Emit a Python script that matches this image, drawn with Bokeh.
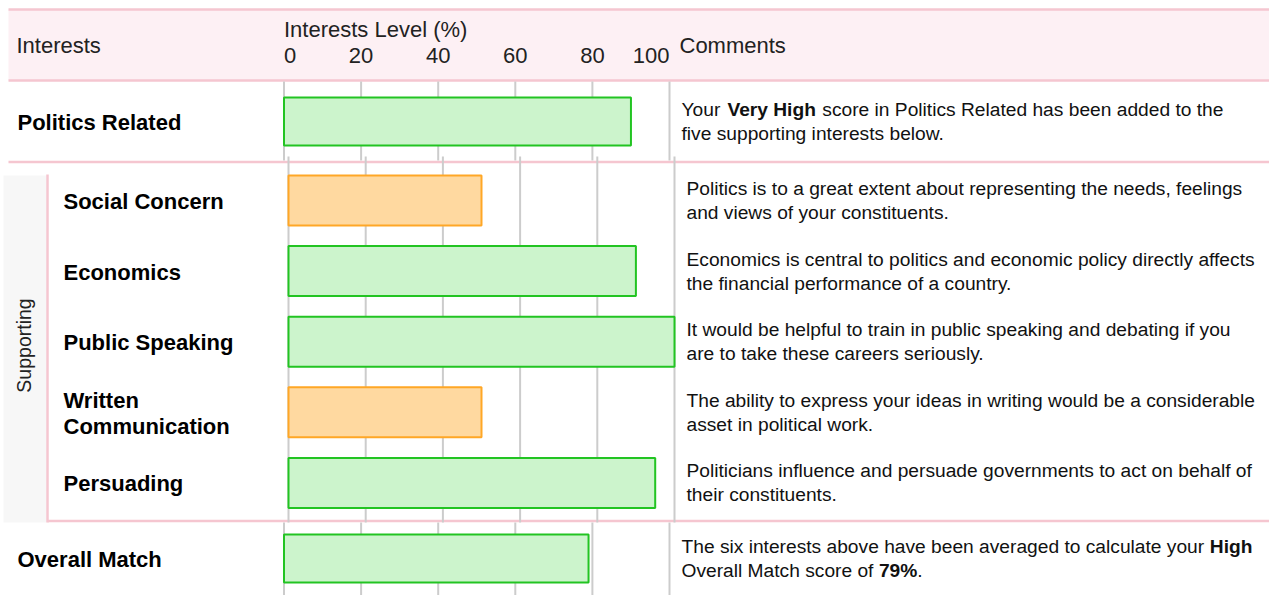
from math import pi
from bokeh.plotting import figure
from bokeh.models import Range1d
from bokeh.core.properties import value
from bokeh.embed import file_html
from bokeh.resources import INLINE

# ---------------- data ----------------
tick_values = [0, 20, 40, 60, 80, 100]
tick_labels = ["0", "20", "40", "60", "80", "100"]

top_labels = ["Politics Related"]
top_values = [90]
top_comments = [["Your **Very High** score in Politics Related has been added to the",
                 "five supporting interests below."]]

support_title = "Supporting"
support_labels = ["Social Concern", "Economics", "Public Speaking",
                  "Written\nCommunication", "Persuading"]
support_values = [50, 90, 100, 50, 95]
support_comments = [
    ["Politics is to a great extent about representing the needs, feelings",
     "and views of your constituents."],
    ["Economics is central to politics and economic policy directly affects",
     "the financial performance of a country."],
    ["It would be helpful to train in public speaking and debating if you",
     "are to take these careers seriously."],
    ["The ability to express your ideas in writing would be a considerable",
     "asset in political work."],
    ["Politicians influence and persuade governments to act on behalf of",
     "their constituents."],
]

overall_labels = ["Overall Match"]
overall_values = [79]
overall_comments = [["The six interests above have been averaged to calculate your **High**",
                     "Overall Match score of **79%**."]]

header_left = "Interests"
header_axis = "Interests Level (%)"
header_right = "Comments"

# ---------------- styling / layout ----------------
FONT = "Liberation Sans"
W, H = 1269, 595
OX, OY = 0, 0
PINK_LINE = "#f5c6d0"
PINK_FILL = "#fdf0f4"
GRID = "#cccccc"
GREEN_FILL, GREEN_LINE = "#ccf4cc", "#22c422"
ORANGE_FILL, ORANGE_LINE = "#ffd9a0", "#ffa726"
TXT = "#111111"

# Arial / Liberation Sans advance widths (per 1000 em)
_up = "ABCDEFGHIJKLMNOPQRSTUVWXYZ"
_lo = "abcdefghijklmnopqrstuvwxyz"
REG = dict(zip(_up, [667,667,722,722,667,611,778,722,278,500,667,556,833,722,778,667,778,722,667,611,722,667,944,667,667,611]))
REG.update(zip(_lo, [556,556,500,556,556,278,556,556,222,222,500,222,833,556,556,556,556,333,500,278,556,500,722,500,500,500]))
BOLD = dict(zip(_up, [722,722,722,722,667,611,778,722,278,556,722,611,833,722,778,667,778,722,667,611,722,667,944,667,667,611]))
BOLD.update(zip(_lo, [556,611,556,611,556,333,611,611,278,278,556,278,889,611,611,611,611,389,556,333,611,556,778,556,556,500]))
for t in (REG, BOLD):
    t.update({" ": 278, ".": 278, ",": 278, "%": 889, "(": 333, ")": 333})
    t.update({d: 556 for d in "0123456789"})


def tw(s, size, bold=False):
    tab = BOLD if bold else REG
    return sum(tab.get(c, 556) for c in s) * size / 1000.0


# chart x mappings: page_x = x0 + scale * v
C1_X0, C1_S = 283.5, 3.855
C2_X0, C2_S = 288.0, 3.86


def xr(x0, s):
    return Range1d(start=(OX - x0) / s, end=(OX + W - x0) / s)


# row mappings: page_y = c0 + step * index
SEC = {"r1": (121.0, 70.0), "r2": (200.0, 70.6), "r3": (558.0, 70.0)}


def yr(c0, step):
    return Range1d(start=(OY + H - c0) / step, end=(OY - c0) / step)


def row_y(name, i):
    c0, step = SEC[name]
    return c0 + step * i


p = figure(width=W, height=H, output_backend="svg", toolbar_location=None,
           x_range=Range1d(OX, OX + W), y_range=Range1d(OY + H, OY),
           x_axis_location=None, y_axis_location=None,
           min_border=0, outline_line_color=None)
p.xgrid.visible = False
p.ygrid.visible = False
p.background_fill_color = "white"
p.border_fill_color = "white"
p.extra_x_ranges = {"c1": xr(C1_X0, C1_S), "c2": xr(C2_X0, C2_S)}
p.extra_y_ranges = {k: yr(*v) for k, v in SEC.items()}

L, R = 8, OX + W
# header band
p.quad(left=[L], right=[R], top=[9], bottom=[80], fill_color=PINK_FILL, line_color=None)
# supporting side box
p.quad(left=[3], right=[46], top=[175], bottom=[522], fill_color="#f7f7f7", line_color=None)

# pink separators
p.segment(x0=[L, L, L, 47], y0=[9, 80, 161.5, 520.5], x1=[R] * 4, y1=[9, 80, 161.5, 520.5],
          line_color=PINK_LINE, line_width=2.5)
p.segment(x0=[47], y0=[174], x1=[47], y1=[522], line_color=PINK_LINE, line_width=2.5)

# gridlines
n = len(tick_values)
p.segment(x0=tick_values, x1=tick_values, y0=[81] * n, y1=[160] * n,
          x_range_name="c1", line_color=GRID, line_width=2)
p.segment(x0=tick_values, x1=tick_values, y0=[156] * n, y1=[522] * n,
          x_range_name="c2", line_color=GRID, line_width=2)
p.segment(x0=tick_values, x1=tick_values, y0=[522] * n, y1=[OY + H] * n,
          x_range_name="c1", line_color=GRID, line_width=2)


def bar_colors(vals):
    fills = [ORANGE_FILL if v < 60 else GREEN_FILL for v in vals]
    lines = [ORANGE_LINE if v < 60 else GREEN_LINE for v in vals]
    return fills, lines


for vals, xname, yname, hpx in ((top_values, "c1", "r1", 48),
                                (support_values, "c2", "r2", 50),
                                (overall_values, "c1", "r3", 48)):
    f, l = bar_colors(vals)
    step = SEC[yname][1]
    p.hbar(y=list(range(len(vals))), left=0, right=vals, height=hpx / step,
           fill_color=f, line_color=l, line_width=2,
           x_range_name=xname, y_range_name=yname)


def text(x, y, s, size, bold=False, align="left", color=TXT, angle=0, xname="default"):
    kw = {}
    if xname != "default":
        kw["x_range_name"] = xname
    p.text(x=[x], y=[y], text=[s], text_font=value(FONT), text_font_size=f"{size}px",
           text_font_style="bold" if bold else "normal", text_align=align,
           text_baseline="middle", text_color=color, angle=angle, **kw)


def rich(x, y, line, size):
    cx = x
    for k, part in enumerate(line.split("**")):
        if not part:
            continue
        bold = (k % 2 == 1)
        lead = len(part) - len(part.lstrip(" "))
        if part.strip():
            text(cx + tw(part[:lead], size, bold), y, part.strip(), size, bold)
        cx += tw(part, size, bold)


# header texts
HS = 22
text(16, 45, header_left, HS, color="#222222")
text(C1_X0, 29, header_axis, HS, color="#222222")
text(679, 45, header_right, HS, color="#222222")
for v, lab in zip(tick_values, tick_labels):
    al = "left" if v == min(tick_values) else ("right" if v == max(tick_values) else "center")
    text(v, 55, lab, HS, align=al, color="#222222", xname="c1")

# row labels and comments
LS, CS, CLH = 22, 19.2, 24
for rname, labels, comments, lx, cx in (("r1", top_labels, top_comments, 17, 681),
                                        ("r2", support_labels, support_comments, 63, 686),
                                        ("r3", overall_labels, overall_comments, 17, 681)):
    for i, (lab, com) in enumerate(zip(labels, comments)):
        yc = row_y(rname, i)
        parts = lab.split("\n")
        for k, part in enumerate(parts):
            text(lx, yc + 1 + (k - (len(parts) - 1) / 2) * 26, part, LS, bold=True, color="#000000")
        for k, line in enumerate(com):
            rich(cx, yc + (k - (len(com) - 1) / 2) * CLH, line, CS)

# supporting vertical title
text(23, 345, support_title, 19.5, align="center", color="#222222", angle=pi / 2)

open("out.html", "w").write(file_html(p, INLINE))
